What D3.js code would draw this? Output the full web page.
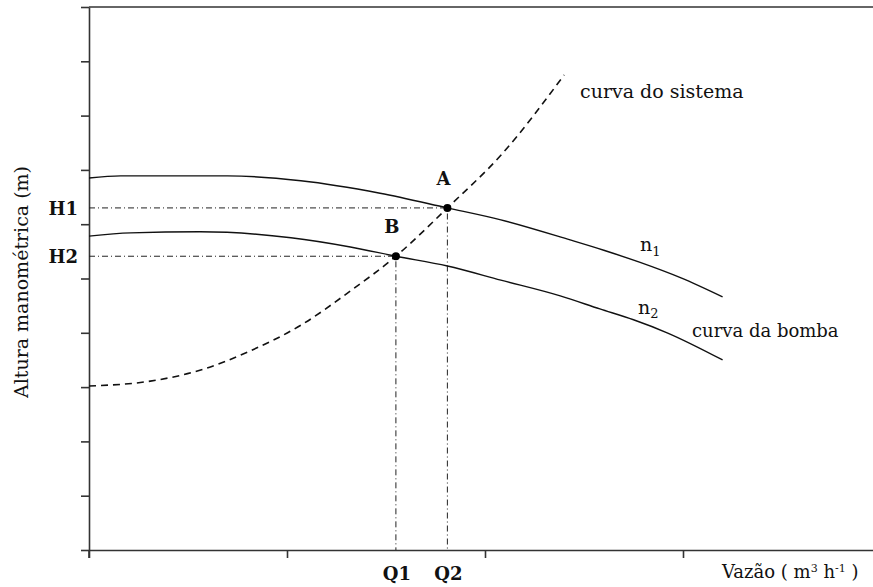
<!DOCTYPE html>
<html>
<head>
<meta charset="utf-8">
<script src="https://cdn.jsdelivr.net/npm/d3@7"></script>
<style>
	body { margin: 0; background: #fff; }
	svg { display: block; }
	text { font-family: 'DejaVu Serif', 'Liberation Serif', serif; fill: #111; }
	text.bold { font-family: 'DejaVu Serif', serif; font-weight: bold; }
</style>
</head>
<body>
<div id="chart"></div>
<script>
// values (arbitrary units, no numbers on the axes)
const xTicks = [0, 10, 20, 30]
const yTicks = [0, 1, 2, 3, 4, 5, 6, 7, 8, 9, 10]

// pump curve, speed n1
const n1Q = [0, 1.6, 7.0, 10.7, 14.7, 18.1, 20.8, 24.3, 26.0, 27.8, 29.9, 32.0]
const n1H = [6.85, 6.89, 6.89, 6.8, 6.57, 6.3, 6.08, 5.71, 5.52, 5.3, 5.01, 4.66]

// pump curve, speed n2
const n2Q = [0, 2.1, 5.6, 10.2, 13.2, 15.5, 18.1, 20.8, 23.8, 25.8, 27.5, 29.2, 32.0]
const n2H = [5.78, 5.84, 5.86, 5.75, 5.58, 5.41, 5.23, 4.97, 4.68, 4.44, 4.24, 4.0, 3.5]

// system curve
const sysQ = [0, 3.1, 5.6, 8.1, 10.7, 13.2, 15.5, 18.1, 20.8, 24.0]
const sysH = [3.02, 3.11, 3.31, 3.66, 4.14, 4.77, 5.41, 6.3, 7.27, 8.75]

// operating points
const points = [
	{ name: 'A', q: 18.1, h: 6.3, qLabel: 'Q2', hLabel: 'H1' },
	{ name: 'B', q: 15.5, h: 5.41, qLabel: 'Q1', hLabel: 'H2' }
]

const width = 873
const height = 587

const x = d3.scaleLinear().domain([0, 40]).range([89, 881])
const y = d3.scaleLinear().domain([0, 10]).range([550, 7])

const svg = d3
	.select('#chart')
	.append('svg')
	.attr('width', width)
	.attr('height', height)

const axisColor = '#333'

// axes
svg.append('g')
	.attr('transform', `translate(0,${y(0)})`)
	.call(d3.axisBottom(x).tickValues(xTicks).tickSize(8).tickSizeOuter(0).tickFormat(''))
svg.append('g')
	.attr('transform', `translate(${x(0)},0)`)
	.call(d3.axisLeft(y).tickValues(yTicks).tickSize(8).tickSizeOuter(0).tickFormat(''))

svg.selectAll('.domain, .tick line')
	.attr('stroke', axisColor)
	.attr('stroke-width', 1.6)

// top frame line
svg.append('line')
	.attr('x1', x(0))
	.attr('x2', width)
	.attr('y1', y(10))
	.attr('y2', y(10))
	.attr('stroke', axisColor)
	.attr('stroke-width', 1.6)

// left axis runs down past the bottom axis a bit
svg.append('line')
	.attr('x1', x(0))
	.attr('x2', x(0))
	.attr('y1', y(0))
	.attr('y2', y(0) + 8)
	.attr('stroke', axisColor)
	.attr('stroke-width', 1.6)

const line = d3
	.line()
	.x(d => x(d[0]))
	.y(d => y(d[1]))
	.curve(d3.curveMonotoneX)

const zip = (a, b) => a.map((v, i) => [v, b[i]])

// dash-dot guides
points.forEach(p => {
	svg.append('path')
		.attr('d', `M${x(0)},${y(p.h)}H${x(p.q)}V${y(0)}`)
		.attr('fill', 'none')
		.attr('stroke', '#222')
		.attr('stroke-width', 1)
		.attr('stroke-dasharray', '6,3,1,3')
})

svg.append('path')
	.datum(zip(n1Q, n1H))
	.attr('d', line)
	.attr('fill', 'none')
	.attr('stroke', '#111')
	.attr('stroke-width', 1.4)

svg.append('path')
	.datum(zip(n2Q, n2H))
	.attr('d', line)
	.attr('fill', 'none')
	.attr('stroke', '#111')
	.attr('stroke-width', 1.4)

svg.append('path')
	.datum(zip(sysQ, sysH))
	.attr('d', line)
	.attr('fill', 'none')
	.attr('stroke', '#111')
	.attr('stroke-width', 1.6)
	.attr('stroke-dasharray', '7,5')

svg.selectAll('circle.op')
	.data(points)
	.enter()
	.append('circle')
	.attr('class', 'op')
	.attr('cx', d => x(d.q))
	.attr('cy', d => y(d.h))
	.attr('r', 4)
	.attr('fill', '#000')

// point names
svg.selectAll('text.pname')
	.data(points)
	.enter()
	.append('text')
	.attr('class', 'pname bold')
	.attr('x', d => x(d.q) - 4)
	.attr('y', d => y(d.h) - 23)
	.attr('text-anchor', 'middle')
	.attr('font-size', 18)
	.text(d => d.name)

// H labels
svg.selectAll('text.hl')
	.data(points)
	.enter()
	.append('text')
	.attr('class', 'hl bold')
	.attr('x', 78)
	.attr('y', d => y(d.h) + 7)
	.attr('text-anchor', 'end')
	.attr('font-size', 18)
	.text(d => d.hLabel)

// Q labels
svg.selectAll('text.ql')
	.data(points)
	.enter()
	.append('text')
	.attr('class', 'ql bold')
	.attr('x', d => x(d.q) + 1)
	.attr('y', 580)
	.attr('text-anchor', 'middle')
	.attr('font-size', 18)
	.text(d => d.qLabel)

// curve annotations
svg.append('text')
	.attr('x', 580)
	.attr('y', 98)
	.attr('font-size', 19)
	.text('curva do sistema')

svg.append('text')
	.attr('x', 692)
	.attr('y', 337)
	.attr('font-size', 18)
	.text('curva da bomba')

const n1 = svg.append('text').attr('x', 640).attr('y', 251).attr('font-size', 19)
n1.append('tspan').text('n')
n1.append('tspan').attr('dy', 5).attr('font-size', 13).text('1')

const n2 = svg.append('text').attr('x', 638).attr('y', 314).attr('font-size', 19)
n2.append('tspan').text('n')
n2.append('tspan').attr('dy', 4).attr('font-size', 13).text('2')

// axis titles
const xt = svg.append('text').attr('x', 722).attr('y', 578).attr('font-size', 18)
xt.append('tspan').text('Vazão ( m')
xt.append('tspan').attr('dy', -6).attr('font-size', 11).text('3')
xt.append('tspan').attr('dy', 6).text(' h')
xt.append('tspan').attr('dy', -6).attr('font-size', 11).text('-1')
xt.append('tspan').attr('dy', 6).text(' )')

svg.append('text')
	.attr('transform', 'translate(28,282) rotate(-90)')
	.attr('text-anchor', 'middle')
	.attr('font-size', 19)
	.text('Altura manométrica (m)')
</script>
</body>
</html>
